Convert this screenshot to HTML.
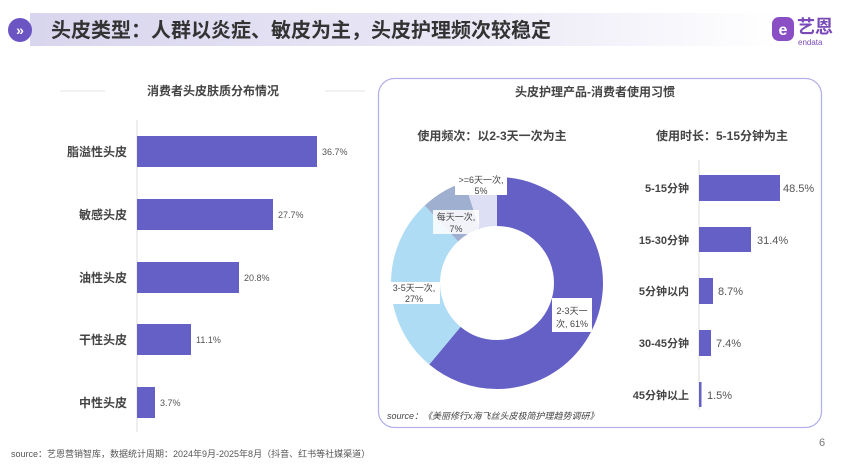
<!DOCTYPE html>
<html><head><meta charset="utf-8"><style>
html,body{margin:0;padding:0;background:#fff;}
body{width:849px;height:466px;overflow:hidden;position:relative;font-family:"Liberation Sans","Noto Sans CJK SC",sans-serif;}
</style></head><body>
<svg width="849" height="466" viewBox="0 0 849 466" xmlns="http://www.w3.org/2000/svg" style="position:absolute;left:0;top:0;font-family:'Liberation Sans','Noto Sans CJK SC',sans-serif">
<defs>
<linearGradient id="hg" x1="0" x2="1" y1="0" y2="0">
<stop offset="0" stop-color="#d8d5ee"/><stop offset="0.6" stop-color="#ebe9f6"/><stop offset="1" stop-color="#ffffff"/>
</linearGradient>
</defs>
<rect x="30" y="13" width="750" height="33" fill="url(#hg)"/>
<circle cx="20" cy="30" r="12" fill="#6b55c3"/>
<text x="20" y="35" font-size="14" font-weight="bold" fill="#fff" text-anchor="middle">»</text>
<text x="51" y="37" font-size="20" font-weight="bold" fill="#333">头皮类型：人群以炎症、敏皮为主，头皮护理频次较稳定</text>
<!-- logo -->
<rect x="772" y="17" width="22" height="24" rx="7" fill="#8a4fc4"/>
<text x="783" y="35" font-size="16" font-weight="bold" fill="#fff" text-anchor="middle">e</text>
<text x="797" y="33" font-size="18" font-weight="bold" fill="#7a4bb8">艺恩</text>
<text x="798" y="45" font-size="8" fill="#7a4bb8">endata</text>

<!-- left chart -->
<line x1="60" y1="91" x2="105" y2="91" stroke="#e6e6e6"/>
<line x1="325" y1="91" x2="365" y2="91" stroke="#e6e6e6"/>
<text x="213" y="95" font-size="12" font-weight="bold" fill="#444" text-anchor="middle">消费者头皮肤质分布情况</text>
<line x1="137" y1="120" x2="137" y2="432" stroke="#ddd"/>
<g fill="#6560c6">
<rect x="137" y="136" width="180" height="31"/>
<rect x="137" y="199" width="136" height="31"/>
<rect x="137" y="262" width="102" height="31"/>
<rect x="137" y="324" width="54" height="31"/>
<rect x="137" y="387" width="18" height="31"/>
</g>
<g font-size="12" font-weight="bold" fill="#444" text-anchor="end">
<text x="127" y="156">脂溢性头皮</text>
<text x="127" y="219">敏感头皮</text>
<text x="127" y="282">油性头皮</text>
<text x="127" y="344">干性头皮</text>
<text x="127" y="407">中性头皮</text>
</g>
<g font-size="9" fill="#555">
<text x="322" y="155">36.7%</text>
<text x="278" y="218">27.7%</text>
<text x="244" y="281">20.8%</text>
<text x="196" y="343">11.1%</text>
<text x="160" y="406">3.7%</text>
</g>

<!-- right panel -->
<rect x="378.5" y="78.5" width="443" height="349" rx="16" fill="none" stroke="#b4b1ea" stroke-width="1.3"/>
<text x="595" y="96" font-size="12" font-weight="bold" fill="#444" text-anchor="middle">头皮护理产品-消费者使用习惯</text>
<text x="492" y="140" font-size="12" font-weight="bold" fill="#444" text-anchor="middle">使用频次：以2-3天一次为主</text>
<text x="722" y="140" font-size="12" font-weight="bold" fill="#444" text-anchor="middle">使用时长：5-15分钟为主</text>

<!-- donut -->
<g transform="rotate(-90 497 283)" fill="none" stroke-width="49">
<circle cx="497" cy="283" r="81.5" stroke="#6560c6" stroke-dasharray="312.4 600" stroke-dashoffset="0"/>
<circle cx="497" cy="283" r="81.5" stroke="#aedcf4" stroke-dasharray="138.3 600" stroke-dashoffset="-312.4"/>
<circle cx="497" cy="283" r="81.5" stroke="#9eafcf" stroke-dasharray="35.8 600" stroke-dashoffset="-450.7"/>
<circle cx="497" cy="283" r="81.5" stroke="#dde0f5" stroke-dasharray="25.6 600" stroke-dashoffset="-486.5"/>
</g>
<g font-size="9" fill="#444" text-anchor="middle">
<rect x="455" y="173" width="52" height="22" fill="#fff"/>
<text x="481" y="183">&gt;=6天一次,</text><text x="481" y="194">5%</text>
<rect x="433" y="210" width="46" height="24" fill="#fff" opacity="0.85"/>
<text x="456" y="220">每天一次,</text><text x="456" y="232">7%</text>
<rect x="390" y="282" width="50" height="22" fill="#fff"/>
<text x="414" y="291">3-5天一次,</text><text x="414" y="302">27%</text>
<rect x="552" y="298" width="40" height="34" fill="#fff"/>
<text x="572" y="314">2-3天一</text><text x="572" y="327">次, 61%</text>
</g>
<text x="387" y="419" font-size="9" font-style="italic" fill="#444">source：《美丽修行x海飞丝头皮极简护理趋势调研》</text>

<!-- right bars -->
<line x1="699" y1="160" x2="699" y2="410" stroke="#ddd"/>
<g fill="#6560c6">
<rect x="699" y="175" width="81" height="26"/>
<rect x="699" y="227" width="52" height="25"/>
<rect x="699" y="278" width="14" height="26"/>
<rect x="699" y="330" width="12" height="26"/>
<rect x="699" y="382" width="2.5" height="25"/>
</g>
<g font-size="11" font-weight="bold" fill="#444" text-anchor="end">
<text x="689" y="192">5-15分钟</text>
<text x="689" y="244">15-30分钟</text>
<text x="689" y="295">5分钟以内</text>
<text x="689" y="347">30-45分钟</text>
<text x="689" y="399">45分钟以上</text>
</g>
<g font-size="11" fill="#555">
<text x="783" y="192">48.5%</text>
<text x="757" y="244">31.4%</text>
<text x="718" y="295">8.7%</text>
<text x="716" y="347">7.4%</text>
<text x="707" y="399">1.5%</text>
</g>

<text x="11" y="457" font-size="9" fill="#555">source：艺恩营销智库，数据统计周期：2024年9月-2025年8月（抖音、红书等社媒渠道）</text>
<text x="822" y="446" font-size="11" fill="#777" text-anchor="middle">6</text>
</svg>
</body></html>
